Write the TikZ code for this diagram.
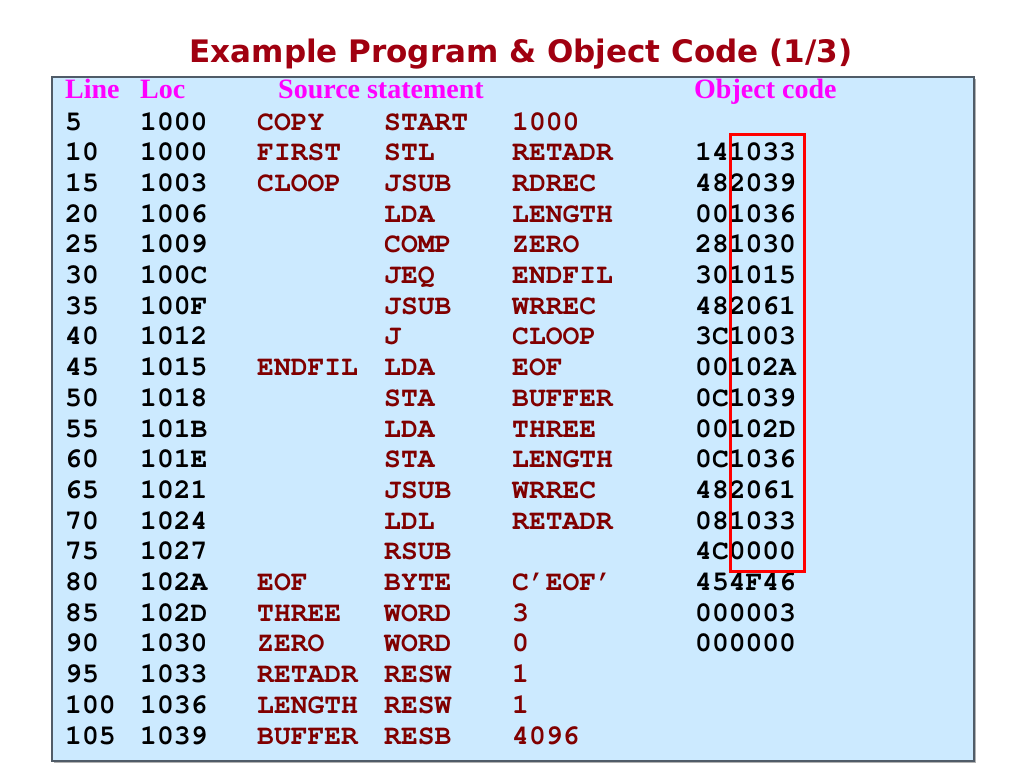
\documentclass[tikz,border=0pt]{standalone}
\usepackage[T1,TU]{fontenc}
\usepackage{fontspec}
\setmainfont{Liberation Serif}
\newfontfamily\titlefont{DejaVu Sans}
\newcommand\courb{\fontencoding{T1}\fontfamily{pcr}\fontseries{b}\fontshape{n}\fontsize{28}{30}\selectfont}
\definecolor{boxfill}{RGB}{204,234,255}
\definecolor{boxline}{RGB}{80,92,104}
\definecolor{srcred}{RGB}{128,0,0}
\definecolor{titlered}{RGB}{160,0,16}
\definecolor{hdrmag}{RGB}{255,0,255}
\tikzset{
  cell/.style={anchor=base west, inner sep=0pt, font=\courb},
  num/.style={cell, text=black},
  src/.style={cell, text=srcred},
  hdr/.style={anchor=base west, inner sep=0pt, text=hdrmag, font=\bfseries\fontsize{28}{30}\selectfont},
}
\newcommand\coderow[7]{%
  \pgfmathsetmacro\yy{130+30.7*#1}%
  \node[num] (ln#1) at (65,\yy) {#2};
  \node[num] (lc#1) at (140,\yy) {#3};
  \node[src] (lb#1) at (257,\yy) {#4};
  \node[src] (op#1) at (384,\yy) {#5};
  \node[src] (od#1) at (512,\yy) {#6};
  \node[num] (ob#1) at (695,\yy) {#7};
}
\begin{document}
\begin{tikzpicture}[x=1pt,y=-1pt]
\useasboundingbox[fill=white] (0,0) rectangle (1024,768);
\node[anchor=base, inner sep=0pt, text=titlered, font=\titlefont\bfseries\fontsize{31}{34}\selectfont] (title) at (521,63) {Example Program \& Object Code (1/3)};
\fill[gray!60] (54,79) rectangle (976,763);
\draw[boxline, line width=1.5pt, fill=boxfill] (52,77) rectangle (974,761);
\node[hdr] (h1) at (65,98) {Line};
\node[hdr] (h2) at (140,98) {Loc};
\node[hdr] (h3) at (278,98) {Source statement};
\node[hdr] (h4) at (694,98) {Object code};
\coderow{0}{5}{1000}{COPY}{START}{1000}{}
\coderow{1}{10}{1000}{FIRST}{STL}{RETADR}{141033}
\coderow{2}{15}{1003}{CLOOP}{JSUB}{RDREC}{482039}
\coderow{3}{20}{1006}{}{LDA}{LENGTH}{001036}
\coderow{4}{25}{1009}{}{COMP}{ZERO}{281030}
\coderow{5}{30}{100C}{}{JEQ}{ENDFIL}{301015}
\coderow{6}{35}{100F}{}{JSUB}{WRREC}{482061}
\coderow{7}{40}{1012}{}{J}{CLOOP}{3C1003}
\coderow{8}{45}{1015}{ENDFIL}{LDA}{EOF}{00102A}
\coderow{9}{50}{1018}{}{STA}{BUFFER}{0C1039}
\coderow{10}{55}{101B}{}{LDA}{THREE}{00102D}
\coderow{11}{60}{101E}{}{STA}{LENGTH}{0C1036}
\coderow{12}{65}{1021}{}{JSUB}{WRREC}{482061}
\coderow{13}{70}{1024}{}{LDL}{RETADR}{081033}
\coderow{14}{75}{1027}{}{RSUB}{}{4C0000}
\coderow{15}{80}{102A}{EOF}{BYTE}{C'EOF'}{454F46}
\coderow{16}{85}{102D}{THREE}{WORD}{3}{000003}
\coderow{17}{90}{1030}{ZERO}{WORD}{0}{000000}
\coderow{18}{95}{1033}{RETADR}{RESW}{1}{}
\coderow{19}{100}{1036}{LENGTH}{RESW}{1}{}
\coderow{20}{105}{1039}{BUFFER}{RESB}{4096}{}
\node[draw=red, line width=3pt, inner sep=0pt, minimum width=74pt, minimum height=437pt, anchor=north west] (hl) at (729,133) {};
\end{tikzpicture}
\end{document}
